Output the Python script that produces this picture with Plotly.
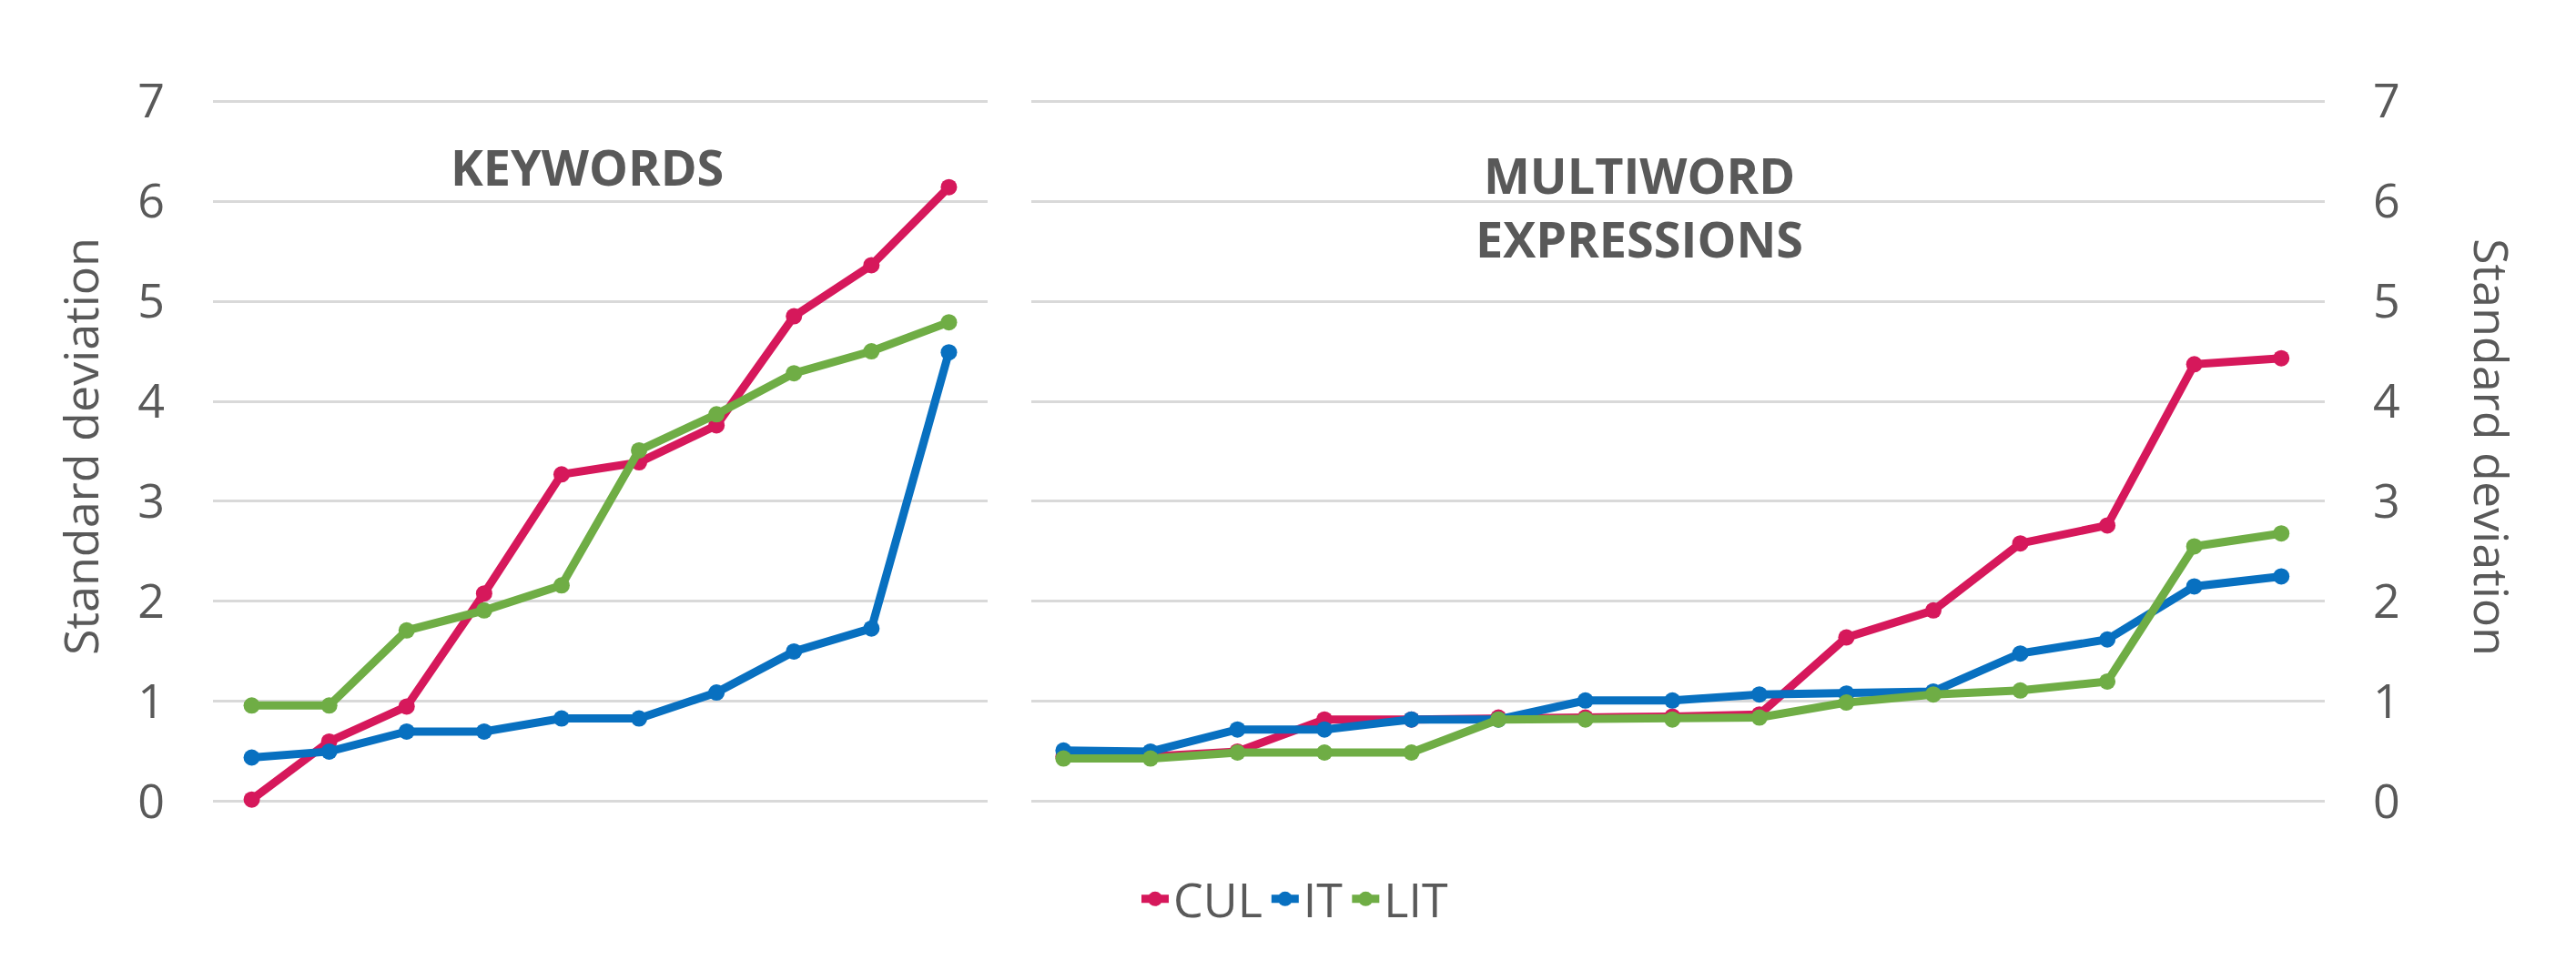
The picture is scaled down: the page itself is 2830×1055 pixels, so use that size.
import plotly.graph_objects as go

# ---- data ----
series_names = ["CUL", "IT", "LIT"]
series_colors = ["#D6185B", "#0870C0", "#6FAD45"]

kw_rank = list(range(1, 11))
kw_cul = [0.02, 0.60, 0.95, 2.08, 3.27, 3.39, 3.76, 4.85, 5.36, 6.14]
kw_it = [0.44, 0.50, 0.70, 0.70, 0.83, 0.83, 1.09, 1.50, 1.73, 4.49]
kw_lit = [0.96, 0.96, 1.71, 1.91, 2.16, 3.51, 3.87, 4.28, 4.50, 4.79]

mwe_rank = list(range(1, 16))
mwe_cul = [0.45, 0.45, 0.50, 0.82, 0.82, 0.84, 0.84, 0.85, 0.87, 1.64, 1.91, 2.58, 2.76, 4.37, 4.43]
mwe_it = [0.51, 0.50, 0.72, 0.72, 0.82, 0.82, 1.01, 1.01, 1.07, 1.08, 1.10, 1.48, 1.62, 2.15, 2.25]
mwe_lit = [0.43, 0.43, 0.49, 0.49, 0.49, 0.82, 0.82, 0.82, 0.84, 0.99, 1.07, 1.11, 1.20, 2.55, 2.68]

y_ticks = [0, 1, 2, 3, 4, 5, 6, 7]
panel_titles = ["KEYWORDS", "MULTIWORD<br>EXPRESSIONS"]
y_title = "Standard deviation"

W, H = 2830, 1055
GREY = "#595959"
FONT = "Open Sans"

fig = go.Figure()

# 左右两个面板，各三条线
for vals, name, color in zip([kw_cul, kw_it, kw_lit], series_names, series_colors):
    fig.add_trace(go.Scatter(
        x=kw_rank, y=vals, name=name, mode="lines+markers",
        line=dict(color=color, width=9), marker=dict(size=18, color=color),
        legendgroup=name, cliponaxis=False, xaxis="x", yaxis="y"))

for vals, name, color in zip([mwe_cul, mwe_it, mwe_lit], series_names, series_colors):
    fig.add_trace(go.Scatter(
        x=mwe_rank, y=vals, name=name, mode="lines+markers",
        line=dict(color=color, width=9), marker=dict(size=18, color=color),
        legendgroup=name, showlegend=False, cliponaxis=False, xaxis="x2", yaxis="y2"))

# 上下留一点余量，让 0 和 7 的网格线也能画出来
y_dom = [(H - 874) / H, (H - 102) / H]
common_y = dict(
    range=[-0.01, 7.01], tickvals=y_ticks, showgrid=True, gridcolor="#D9D9D9", gridwidth=3,
    zeroline=False, showline=False, ticks="", ticklabelstandoff=52, automargin=False,
    tickfont=dict(family=FONT, size=52, color=GREY), domain=y_dom)

fig.update_layout(
    template="none",
    width=W, height=H,
    paper_bgcolor="white", plot_bgcolor="white",
    margin=dict(l=0, r=0, t=0, b=0, pad=0, autoexpand=False),
    xaxis=dict(domain=[226 / W, 1077 / W], range=[0.5, 10.5], visible=False, automargin=False),
    xaxis2=dict(domain=[1125 / W, 2546 / W], range=[0.63, 15.5], visible=False, automargin=False),
    yaxis=dict(anchor="x", side="left", **common_y),
    yaxis2=dict(anchor="x2", side="right", **common_y),
    showlegend=True,
    legend=dict(orientation="h", x=0.5, xanchor="center", y=(H - 980) / H, yanchor="middle",
                font=dict(family=FONT, size=52, color=GREY), itemwidth=30,
                bgcolor="rgba(0,0,0,0)"),
    font=dict(family=FONT, color=GREY),
)

# 面板标题
fig.add_annotation(text=panel_titles[0], x=637 / W, y=(H - 175) / H, xref="paper", yref="paper",
                   showarrow=False, xanchor="center", yanchor="middle",
                   font=dict(family=FONT, size=54, color=GREY, weight="bold"))
fig.add_annotation(text=panel_titles[1], x=1793 / W, y=(H - 219) / H, xref="paper", yref="paper",
                   showarrow=False, xanchor="center", yanchor="middle",
                   font=dict(family=FONT, size=54, color=GREY, weight="bold"))

# 轴标题（右侧文字方向与左侧相反）
fig.add_annotation(text=y_title, x=80 / W, y=(H - 483) / H, xref="paper", yref="paper",
                   showarrow=False, xanchor="center", yanchor="middle", textangle=-90,
                   font=dict(family=FONT, size=52, color=GREY))
fig.add_annotation(text=y_title, x=2730 / W, y=(H - 483) / H, xref="paper", yref="paper",
                   showarrow=False, xanchor="center", yanchor="middle", textangle=90,
                   font=dict(family=FONT, size=52, color=GREY))

fig.write_html("out.html")
